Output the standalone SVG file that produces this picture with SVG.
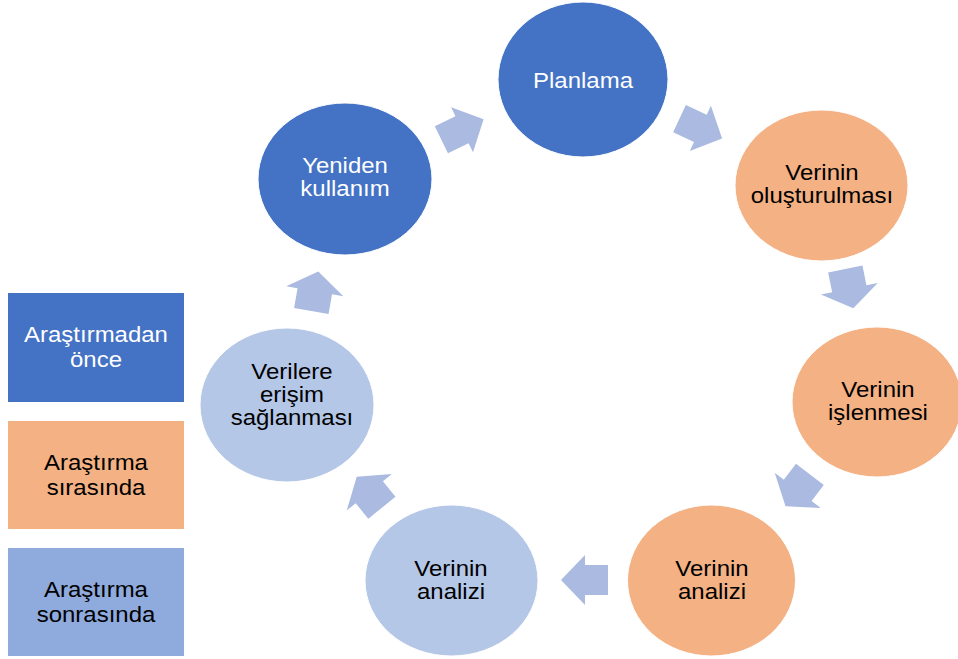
<svg xmlns="http://www.w3.org/2000/svg" xmlns:xlink="http://www.w3.org/1999/xlink" width="958" height="659" viewBox="0 0 958 659">
  <style>
    text { font-family: "Liberation Sans", Arial, sans-serif; font-size: 22px; text-anchor: middle; }
    .wt { fill: #ffffff; }
    .bk { fill: #000000; }
    .dark { fill: #4472C4; stroke: #ffffff; stroke-width: 1; }
    .orange { fill: #F4B183; stroke: #ffffff; stroke-width: 1; }
    .light { fill: #B4C7E7; stroke: #ffffff; stroke-width: 1; }
    .arrow { fill: #AABAE0; }
  </style>
  <defs>
    <!-- block arrows pointing along +x, centred on the origin -->
    <polygon id="arrowLong" class="arrow" points="-23.5,-15 -0.5,-15 -0.5,-25 23.5,0 -0.5,25 -0.5,15 -23.5,15"/>
    <polygon id="arrowShort" class="arrow" points="-20,-17.5 0,-17.5 0,-29 20,0 0,29 0,17.5 -20,17.5"/>
  </defs>

  <rect width="958" height="659" fill="#ffffff"/>

  <!-- legend (labels are slightly widened) -->
  <g id="legend-before">
    <rect x="8" y="293" width="176" height="109" fill="#4472C4"/>
    <text class="wt" transform="translate(96,342) scale(1.09,1)">Araştırmadan</text>
    <text class="wt" transform="translate(96,367) scale(1.09,1)">önce</text>
  </g>
  <g id="legend-during">
    <rect x="8" y="421" width="176" height="108" fill="#F4B183"/>
    <text class="bk" transform="translate(96,470) scale(1.09,1)">Araştırma</text>
    <text class="bk" transform="translate(96,495) scale(1.09,1)">sırasında</text>
  </g>
  <g id="legend-after">
    <rect x="8" y="548" width="176" height="108" fill="#8FAADC"/>
    <text class="bk" transform="translate(96,597) scale(1.09,1)">Araştırma</text>
    <text class="bk" transform="translate(96,622) scale(1.09,1)">sonrasında</text>
  </g>

  <!-- cycle arrows -->
  <g id="connectors">
    <use xlink:href="#arrowLong" transform="translate(462.5,129.5) rotate(-26)"/>
    <use xlink:href="#arrowLong" transform="translate(700.8,128.5) rotate(25)"/>
    <use xlink:href="#arrowShort" transform="translate(849.3,288.7) rotate(78.5)"/>
    <use xlink:href="#arrowShort" transform="translate(797.7,490.3) rotate(127.5)"/>
    <use xlink:href="#arrowLong" transform="translate(584.5,580) rotate(180)"/>
    <use xlink:href="#arrowShort" transform="translate(369.3,492.2) rotate(231)"/>
    <use xlink:href="#arrowShort" transform="translate(314.8,291.3) rotate(-80)"/>
  </g>

  <!-- cycle stages -->
  <g id="planlama">
    <ellipse class="dark" cx="583" cy="79.5" rx="85" ry="77.5"/>
    <text class="wt" transform="translate(583,88) scale(1.09,1)">Planlama</text>
  </g>
  <g id="verinin-olusturulmasi">
    <ellipse class="orange" cx="821.5" cy="185.5" rx="86.5" ry="75.5"/>
    <text class="bk" transform="translate(822,180) scale(1.09,1)">Verinin</text>
    <text class="bk" transform="translate(822,203) scale(1.09,1)">oluşturulması</text>
  </g>
  <g id="verinin-islenmesi">
    <ellipse class="orange" cx="877" cy="402" rx="85" ry="75"/>
    <text class="bk" transform="translate(878,397) scale(1.09,1)">Verinin</text>
    <text class="bk" transform="translate(878,420) scale(1.09,1)">işlenmesi</text>
  </g>
  <g id="verinin-analizi-sirasinda">
    <ellipse class="orange" cx="711.5" cy="580.5" rx="84" ry="75.5"/>
    <text class="bk" transform="translate(712,576) scale(1.09,1)">Verinin</text>
    <text class="bk" transform="translate(712,599) scale(1.09,1)">analizi</text>
  </g>
  <g id="verinin-analizi-sonrasinda">
    <ellipse class="light" cx="451.5" cy="580.5" rx="86.5" ry="75.5"/>
    <text class="bk" transform="translate(451,576) scale(1.09,1)">Verinin</text>
    <text class="bk" transform="translate(451,599) scale(1.09,1)">analizi</text>
  </g>
  <g id="verilere-erisim">
    <ellipse class="light" cx="287" cy="405" rx="87" ry="77"/>
    <text class="bk" transform="translate(292,379) scale(1.09,1)">Verilere</text>
    <text class="bk" transform="translate(292,402) scale(1.09,1)">erişim</text>
    <text class="bk" transform="translate(292,425) scale(1.09,1)">sağlanması</text>
  </g>
  <g id="yeniden-kullanim">
    <ellipse class="dark" cx="345" cy="179" rx="87" ry="76"/>
    <text class="wt" transform="translate(345,173) scale(1.09,1)">Yeniden</text>
    <text class="wt" transform="translate(345,196) scale(1.09,1)">kullanım</text>
  </g>
</svg>
